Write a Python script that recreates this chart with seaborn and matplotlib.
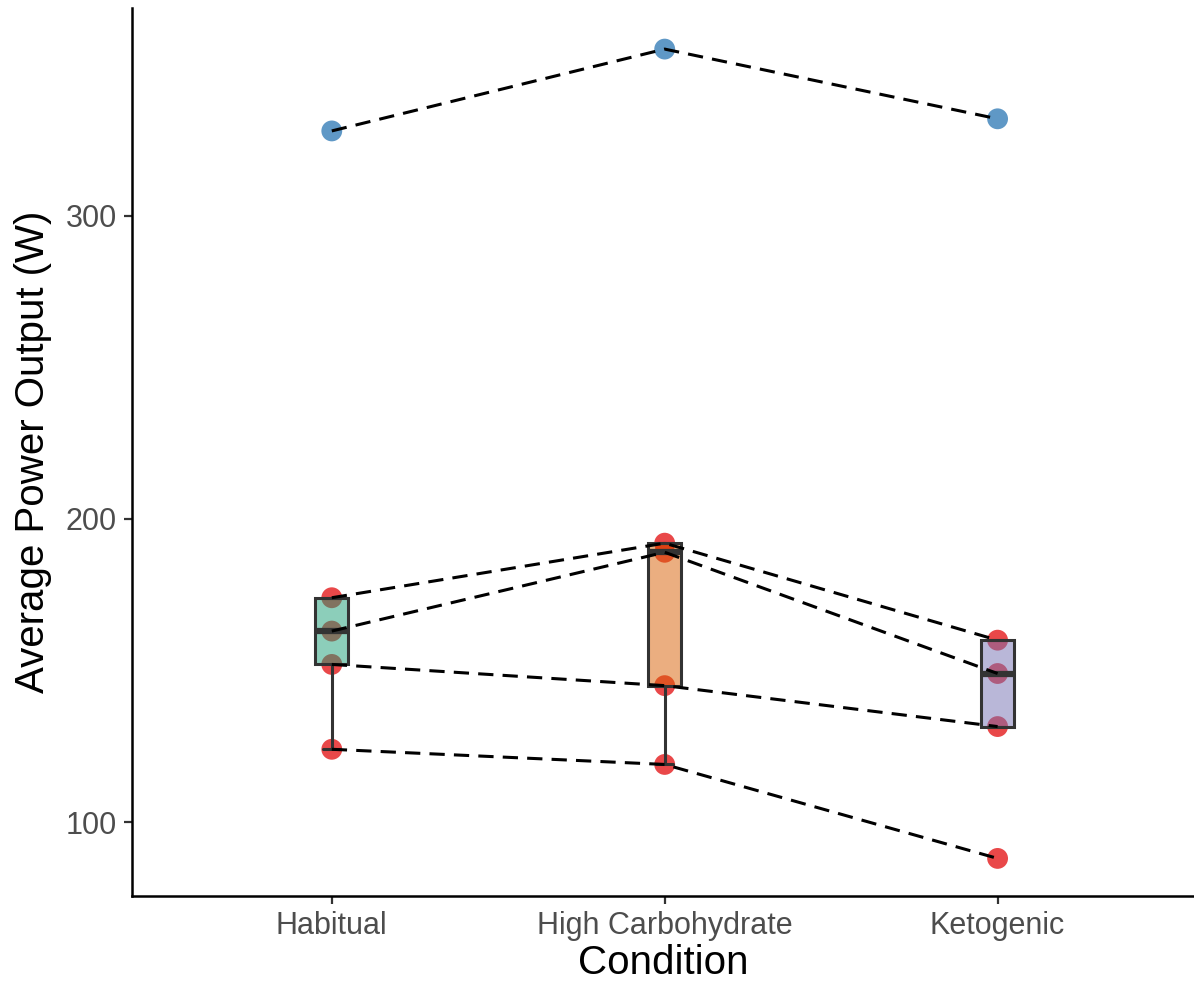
import pandas as pd
import matplotlib
matplotlib.use("Agg")
import matplotlib.pyplot as plt
import seaborn as sns
from matplotlib.colors import to_rgba

# Data (one value per subject per condition)
conditions = ["Habitual", "High Carbohydrate", "Ketogenic"]
subjects = ["S1", "S2", "S3", "S4", "S5"]
habitual = [174, 163, 152, 124, 328]
high_carb = [192, 189, 145, 119, 355]
ketogenic = [160, 149, 131.5, 88, 332]
groups = ["typical", "typical", "typical", "typical", "high"]

box_colors = ["#1B9E77", "#D95F02", "#7570B3"]
point_colors = {"typical": "#E41A1C", "high": "#377EB8"}

rows = []
for cond, vals in zip(conditions, [habitual, high_carb, ketogenic]):
    for subj, grp, v in zip(subjects, groups, vals):
        rows.append({"Condition": cond, "Subject": subj, "Group": grp, "Power": v})
df = pd.DataFrame(rows)
df["Condition"] = pd.Categorical(df["Condition"], categories=conditions, ordered=True)
df["pos"] = df["Condition"].cat.codes

sns.set_style("ticks")
plt.rcParams["font.family"] = ["Liberation Sans", "DejaVu Sans"]

fig = plt.figure(figsize=(11.94, 9.83), dpi=100)
ax = fig.add_axes([0.1106, 0.0885, 0.8894, 0.9035])

# points underneath
sns.stripplot(data=df, x="Condition", y="Power", hue="Group", palette=point_colors,
              jitter=False, size=15, alpha=0.8, linewidth=0, legend=False,
              order=conditions, ax=ax, zorder=1)

# boxplots with semi transparent fill
sns.boxplot(data=df, x="Condition", y="Power", hue="Condition", palette=box_colors,
            order=conditions, width=0.1, showfliers=False, whis=1.5,
            linecolor="#333333", linewidth=2.2, legend=False,
            medianprops={"linewidth": 4.5}, ax=ax)
for patch, c in zip(ax.patches, box_colors):
    patch.set_facecolor(to_rgba(c, 0.5))
    patch.set_zorder(2)

# dashed lines joining each subject
sns.lineplot(data=df, x="pos", y="Power", units="Subject", estimator=None,
             color="black", linewidth=2.2, linestyle=(0, (5, 3)), ax=ax, zorder=3)

ax.set_xlim(-0.6, 2.59)
ax.set_ylim(75.6, 368.6)
ax.set_yticks([100, 200, 300])
ax.set_xticks(range(len(conditions)))
ax.set_xticklabels(conditions)
ax.set_xlabel("Condition", fontsize=29, color="black", labelpad=2)
ax.set_ylabel("Average Power Output (W)", fontsize=29, color="black", labelpad=10)
ax.tick_params(axis="both", labelsize=22, labelcolor="#4D4D4D", color="#333333",
               length=6, width=1.6, pad=5)
for side in ["top", "right"]:
    ax.spines[side].set_visible(False)
for side in ["left", "bottom"]:
    ax.spines[side].set_linewidth(1.8)
    ax.spines[side].set_color("black")

fig.savefig("out.png", dpi=100)
